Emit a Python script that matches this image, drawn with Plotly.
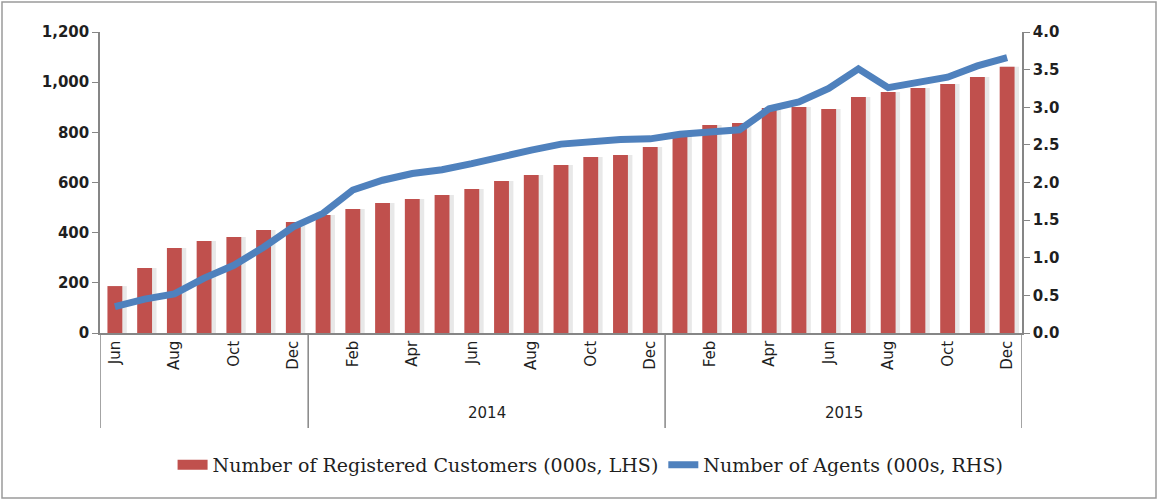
import plotly.graph_objects as go

# monthly periods, Jun 2013 - Dec 2015
periods = (
    [f"2013-{m:02d}" for m in range(6, 13)]
    + [f"2014-{m:02d}" for m in range(1, 13)]
    + [f"2015-{m:02d}" for m in range(1, 13)]
)
month_names = ["Jan", "Feb", "Mar", "Apr", "May", "Jun",
               "Jul", "Aug", "Sep", "Oct", "Nov", "Dec"]
tick_labels = [month_names[int(p[5:]) - 1] for p in periods]
years = ["2014", "2015"]

customers = [187, 259, 339, 367, 383, 411, 443,
             470, 494, 518, 534, 550, 574, 606, 630, 670, 702, 710, 742,
             785, 829, 837, 897, 901, 893, 941, 961, 977, 993, 1021, 1061]
agents = [0.35, 0.45, 0.52, 0.73, 0.90, 1.14, 1.41,
          1.59, 1.90, 2.03, 2.12, 2.17, 2.25, 2.35, 2.43, 2.51, 2.55, 2.57, 2.58,
          2.64, 2.67, 2.70, 2.98, 3.07, 3.25, 3.51, 3.26, 3.32, 3.40, 3.55, 3.66]

RED = "#C0504D"
BLUE = "#4F81BD"
AXIS = "#868686"
TICKFONT = dict(family="DejaVu Sans", size=15, color="#1f1f1f", weight="bold")
MONTHFONT = dict(family="DejaVu Sans", size=15, color="#1f1f1f")

L, R, T, B = 100, 136, 32, 167
W, H = 1158, 500
plot_h = H - T - B

fig = go.Figure()

# soft shadow behind the bars
fig.add_trace(go.Bar(
    x=periods, y=customers, width=0.62, offset=-0.22,
    marker=dict(color="rgba(190,190,190,0.35)", line_width=0),
    showlegend=False, hoverinfo="skip",
))
fig.add_trace(go.Bar(
    x=periods, y=customers, width=0.5, offset=-0.25,
    name="Number of Registered Customers (000s, LHS)",
    marker=dict(color=RED, line_width=0),
    legendgroup="cust", showlegend=False,
))
fig.add_trace(go.Scatter(
    x=periods, y=agents, yaxis="y2", mode="lines",
    name="Number of Agents (000s, RHS)",
    line=dict(color=BLUE, width=7),
    showlegend=False,
))
# legend entries (wide swatches like the original)
fig.add_trace(go.Scatter(
    x=[None], y=[None], mode="lines", legendgroup="cust",
    name="Number of Registered Customers (000s, LHS)",
    line=dict(color=RED, width=12),
))
fig.add_trace(go.Scatter(
    x=[None], y=[None], yaxis="y2", mode="lines",
    name="Number of Agents (000s, RHS)",
    line=dict(color=BLUE, width=7),
))

fig.update_layout(
    width=W, height=H,
    margin=dict(l=L, r=R, t=T, b=B),
    plot_bgcolor="white", paper_bgcolor="white",
    barmode="overlay",
    xaxis=dict(
        type="category", range=[-0.5, len(periods) - 0.5],
        tickvals=periods[::2], ticktext=tick_labels[::2],
        tickangle=-90, tickfont=MONTHFONT,
        showline=True, linecolor=AXIS, linewidth=1.5,
        ticks="", showgrid=False,
    ),
    yaxis=dict(
        range=[0, 1200], dtick=200, tickformat=",d",
        tickfont=TICKFONT, showgrid=False, zeroline=False,
        showline=True, linecolor=AXIS, linewidth=1.5,
        ticks="outside", ticklen=6, tickcolor=AXIS,
    ),
    yaxis2=dict(
        overlaying="y", side="right",
        range=[0, 4.0], dtick=0.5, tickformat=".1f",
        tickfont=TICKFONT, showgrid=False, zeroline=False,
        showline=True, linecolor=AXIS, linewidth=1.5,
        ticks="outside", ticklen=6, tickcolor=AXIS,
    ),
    legend=dict(
        orientation="h", xref="container", yref="container",
        x=0.51, y=0.07, xanchor="center", yanchor="middle",
        font=dict(family="DejaVu Serif", size=19, color="#1f1f1f"),
        traceorder="normal",
    ),
)

# year group dividers and labels under the month ticks
div_bottom = -95 / plot_h
for xv in [-0.5, 6.5, 18.5, len(periods) - 0.5]:
    fig.add_shape(type="line", xref="x", yref="paper",
                  x0=xv, x1=xv, y0=0, y1=div_bottom,
                  line=dict(color=AXIS, width=1.5))
for xv, label in zip([12.5, 24.5], years):
    fig.add_annotation(x=xv, y=-80 / plot_h, xref="x", yref="paper",
                       text=label, showarrow=False, yanchor="middle",
                       font=dict(family="DejaVu Sans", size=15, color="#1f1f1f"))

# outer chart border
fig.add_shape(type="rect", xref="paper", yref="paper",
              x0=-(L - 2) / (W - L - R), x1=1 + (R - 2) / (W - L - R),
              y0=-(B - 2) / plot_h, y1=1 + (T - 2) / plot_h,
              line=dict(color="#9a9a9a", width=1.5))

fig.write_html("out.html", config={"displayModeBar": False},
               post_script="document.body.style.margin='0px';")
